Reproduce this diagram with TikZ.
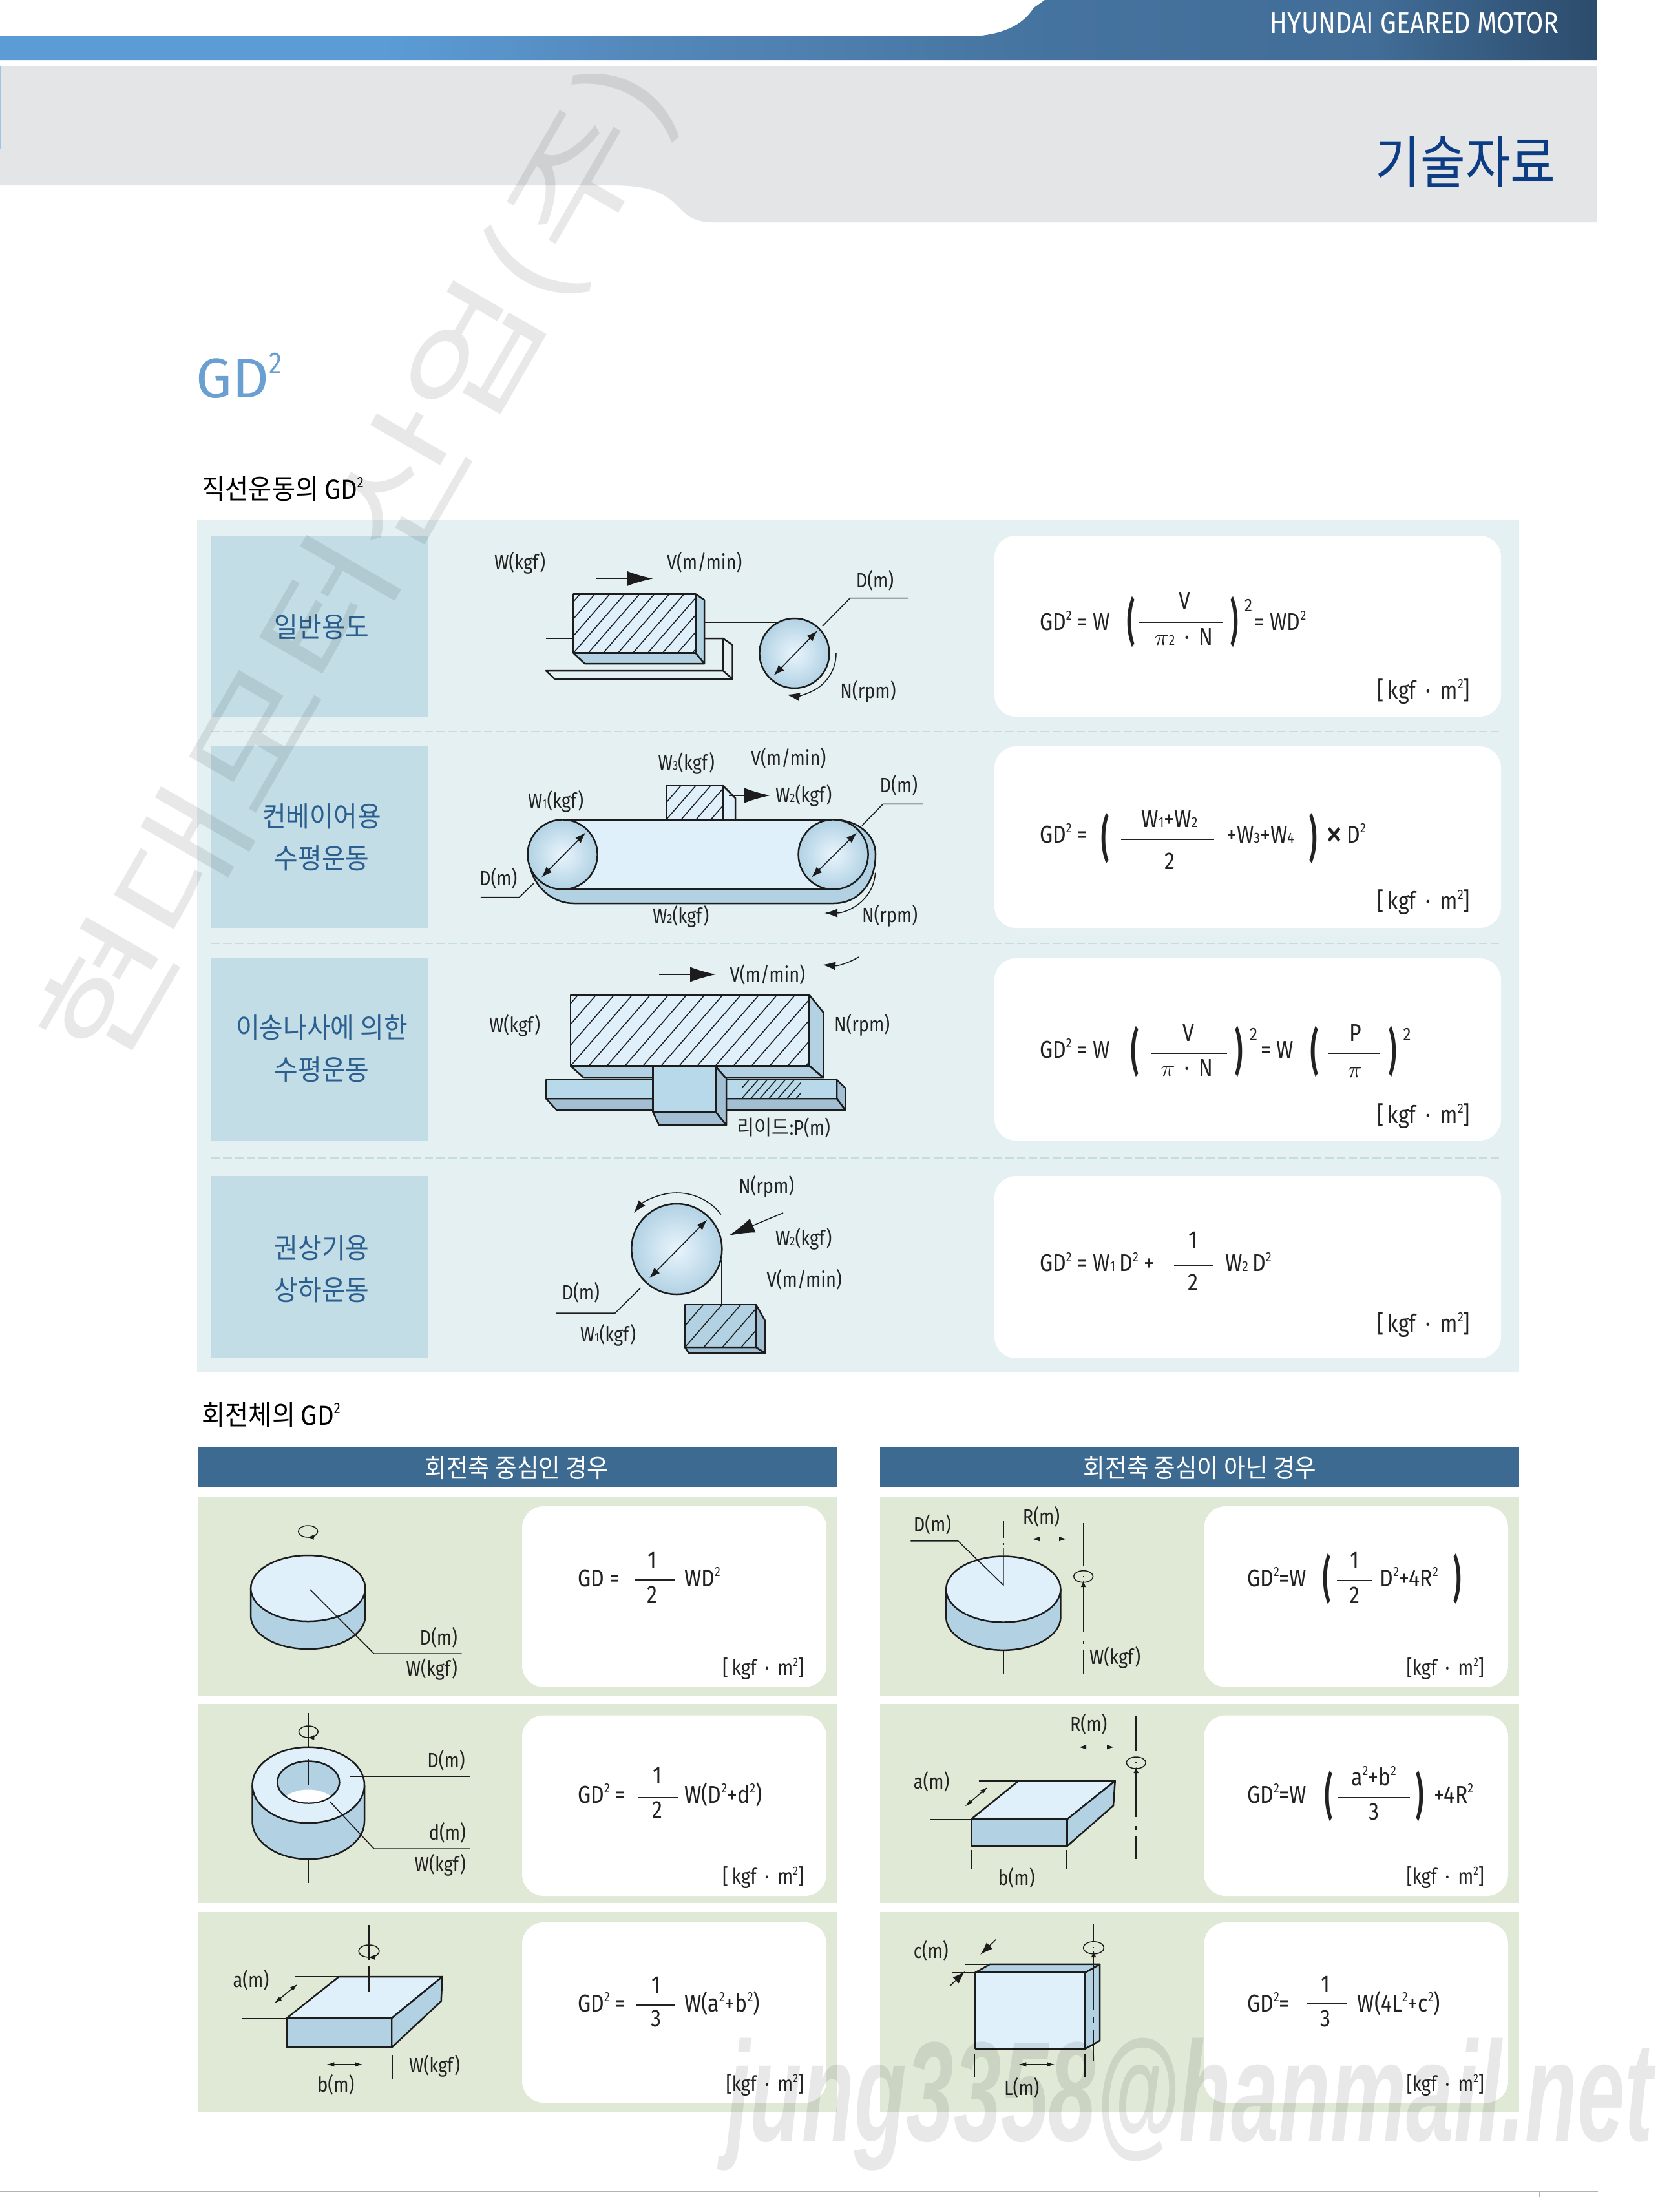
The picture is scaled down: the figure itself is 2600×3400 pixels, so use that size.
\documentclass[tikz,border=0pt]{standalone}
\usepackage{graphicx}
\usepackage{fontspec}
\usetikzlibrary{arrows.meta}
\setmainfont[FakeStretch=0.85]{Fira Sans}
\newfontfamily\kr[FakeStretch=0.92]{Noto Sans CJK KR}
\newfontfamily\wmk[FakeStretch=0.6]{Liberation Sans}
\definecolor{txt}{HTML}{222222}
\definecolor{objl}{HTML}{1C1C1C}
\definecolor{panelb}{HTML}{E4F0F2}
\definecolor{blockb}{HTML}{C3DDE6}
\definecolor{panelg}{HTML}{E0E8D6}
\definecolor{headb}{HTML}{3C6A91}
\definecolor{lightf}{HTML}{DFF0FB}
\definecolor{sidef}{HTML}{B2D2E4}
\definecolor{darkf}{HTML}{A3BFD3}
\definecolor{railf}{HTML}{B8D9E9}
\definecolor{grayb}{HTML}{E3E5E7}
\definecolor{dashc}{HTML}{C5DEDD}
\definecolor{labelc}{HTML}{2A5F8F}
\definecolor{titlec}{HTML}{0B3C84}
\definecolor{gdc}{HTML}{6A9FD2}
\definecolor{hA}{HTML}{5B9CD6}
\definecolor{hB}{HTML}{5488BB}
\definecolor{hC}{HTML}{45739F}
\definecolor{hD}{HTML}{2C4C6C}
\pgfdeclarehorizontalshading{hdrshade}{100bp}{color(0bp)=(hA); color(25bp)=(hA); color(37bp)=(hA); color(45bp)=(hB); color(58bp)=(hC); color(68bp)=(hC!85!hD); color(75bp)=(hD); color(100bp)=(hD)}
\newcommand\su[1]{\raisebox{0.42em}{\scalebox{.55}{#1}}}
\newcommand\sm[1]{\scalebox{.6}{#1}}
\newcommand\fL{\fontsize{9.6}{11}\selectfont}
\newcommand\fF{\fontsize{11.3}{13}\selectfont}
\tikzset{
 lbl/.style={inner sep=0,outer sep=0,anchor=base west,font=\fL,text=txt},
 lblr/.style={lbl,anchor=base east},
 fm/.style={inner sep=0,outer sep=0,anchor=base west,font=\fF,text=txt},
 fmc/.style={fm,anchor=base},
 fmr/.style={fm,anchor=base east},
 fmu/.style={fmr,font=\fontsize{9.9}{12}\selectfont},
 pn/.style={inner sep=0,outer sep=0,anchor=center,font=\fF\bfseries,text=txt},
 blk/.style={inner sep=0,outer sep=0,anchor=center,align=center,font={\kr\fontsize{13}{19.5}\selectfont},text=labelc},
 obj/.style={draw=objl,line width=.75pt,line join=round},
 ln/.style={draw=objl,line width=.45pt},
 barl/.style={draw=txt,line width=.6pt},
 card/.style={fill=white,rounded corners=10pt},
 dsh/.style={draw=dashc,line width=.45pt,dash pattern=on 4pt off 1.5pt},
 bigtip/.style={-{Latex[length=12pt,width=7pt]}},
 midtip/.style={-{Latex[length=6pt,width=4pt]}},
 tinytip/.style={-{Latex[length=3pt,width=2.4pt]}},
 dia/.style={{Latex[length=5pt,width=3.6pt]}-{Latex[length=5pt,width=3.6pt]}},
 smalld/.style={{Latex[length=3.6pt,width=2.2pt]}-{Latex[length=3.6pt,width=2.2pt]}},
 wm/.style={inner sep=0,outer sep=0,text=black,text opacity=.09}
}
\newcommand\LB[4]{\node[lbl] (#1) at (#2,#3) {#4};}
\newcommand\LR[4]{\node[lblr] (#1) at (#2,#3) {#4};}
\newcommand\FM[4]{\node[fm] (#1) at (#2,#3) {#4};}
\newcommand\FC[4]{\node[fmc] (#1) at (#2,#3) {#4};}
\newcommand\UN[3]{\node[fmr] (#1) at (#2,#3) {[\,kgf\, ·\, m\su{2}]};}
\newcommand\US[3]{\node[fmu] (#1) at (#2,#3) {[\,kgf\, ·\, m\su{2}]};}
\newcommand\UO[3]{\node[fmu] (#1) at (#2,#3) {[kgf\, ·\, m\su{2}]};}
\newcommand\PA[4]{\node[pn] (#1) at (#2,#3) {\scalebox{1.15}[2.05]{#4}};}
\newcommand\BAR[3]{\draw[barl] (#1,#3) -- (#2,#3);}
\newcommand\hatchrect[6]{%
 \fill[#6] (#1,#2) rectangle (#3,#4);
 \begin{scope}
 \clip (#1,#2) rectangle (#3,#4);
 \pgfmathsetmacro\dd{(#4-#2)/1.15}
 \foreach \o [evaluate=\o as \oo using #1+#5*\o, evaluate=\o as \op using #1+#5*\o+\dd] in {-8,...,20}
   \draw[ln] (\oo,#4) -- (\op,#2);
 \end{scope}}
\newcommand\cyl[5]{% cx ytop ybot rx ry
 \filldraw[obj,fill=sidef] ({#1-#4},#2) -- ({#1-#4},#3) arc [start angle=180,end angle=0,x radius=#4,y radius=#5] -- ({#1+#4},#2) -- cycle;
 \filldraw[obj,fill=lightf] (#1,#2) ellipse [x radius=#4,y radius=#5];}
\newcommand\rotm[4]{%
 \draw[ln] (#1,#2) ellipse [x radius=#3,y radius=#4];
 \draw[ln,tinytip] ({#1+8},{#2+#4}) -- ({#1-1},{#2+#4});}
\newcommand\pul[3]{\shade[inner color=lightf!70!white,outer color=sidef] (#1,#2) circle [radius=#3]; \draw[obj] (#1,#2) circle [radius=#3];}
\begin{document}
\begin{tikzpicture}[x=0.3pt,y=0.3pt,yscale=-1]
\useasboundingbox (0,0) rectangle (2600,3400);
\fill[white] (0,0) rectangle (2600,3400);
% header
\shade[shading=hdrshade] (0,56) -- (1509,56) .. controls (1560,52) and (1585,35) .. (1600,12) -- (1617,0) -- (2471,0) -- (2471,93) -- (0,93) -- cycle;
\fill[grayb] (0,102) -- (2471,102) -- (2471,344) -- (1103,344) .. controls (1080,344) and (1065,337) .. (1050,320) .. controls (1030,300) and (1010,287) .. (945,287) -- (0,287) -- cycle;
\fill[hA!60!white] (0,102) rectangle (2,230);
\node[inner sep=0,anchor=base east,text=white,font=\fontsize{13.9}{15}\selectfont] (hdr) at (2413,51) {HYUNDAI GEARED MOTOR};
\node[inner sep=0,anchor=base east,text=titlec,font=\kr\fontsize{25.2}{30}\selectfont] (ttl) at (2408,283) {\scalebox{.98}[1.05]{기술자료}};
\node[inner sep=0,anchor=base west,text=gdc,font=\fontsize{26}{30}\selectfont] (gd) at (303,615) {\scalebox{1.2}[1]{GD}\su{2}};
\node[inner sep=0,anchor=base west,text=black,font=\kr\fontsize{12.8}{15}\selectfont] (sec1) at (312,772) {직선운동의 {\rmfamily\scalebox{1.1}[1]{GD}\su{2}}};
\node[inner sep=0,anchor=base west,text=black,font=\kr\fontsize{12.8}{15}\selectfont] (sec2) at (312,2205) {회전체의 {\rmfamily\scalebox{1.1}[1]{GD}\su{2}}};
% panel 1
\fill[panelb] (305,804) rectangle (2351,2123);
\fill[blockb] (327,829) rectangle (663,1110);
\fill[blockb] (327,1154) rectangle (663,1436);
\fill[blockb] (327,1483) rectangle (663,1765);
\fill[blockb] (327,1820) rectangle (663,2102);
\draw[dsh] (327,1132) -- (2321,1132);
\draw[dsh] (327,1460) -- (2321,1460);
\draw[dsh] (327,1792) -- (2321,1792);
\fill[card] (1539,829) rectangle (2323,1109);
\fill[card] (1539,1155) rectangle (2323,1436);
\fill[card] (1539,1483) rectangle (2323,1765);
\fill[card] (1539,1820) rectangle (2323,2102);
\node[blk] (b1) at (498,970) {일반용도};
\node[blk] (b2) at (498,1296) {컨베이어용\\수평운동};
\node[blk] (b3) at (498,1623) {이송나사에 의한\\수평운동};
\node[blk] (b4) at (498,1964) {권상기용\\상하운동};
% scene 1
\LB{s1a}{765}{881.7}{W(kgf)}
\LB{s1b}{1032}{881.7}{V(m/min)}
\LB{s1c}{1324.8}{909}{D(m)}
\LB{s1d}{1300.4}{1080}{N(rpm)}
\draw[ln,bigtip] (922.6,895.4) -- (1010.4,895.4);
\draw[ln] (845,988) -- (887.4,988);
\draw[obj] (1090,963) -- (1205.6,963);
\draw[obj] (1090,988) -- (1119,988) -- (1133.5,998) -- (1133.5,1051) -- (858.7,1051) -- (845,1038) -- (1119,1038) -- (1133.5,1051);
\draw[obj] (1119,988) -- (1119,1038);
\hatchrect{887.4}{919.4}{1076.6}{1010.6}{23}{lightf}
\filldraw[obj,fill=sidef] (1076.6,919.4) -- (1090,928.5) -- (1090,1027) -- (1076.6,1010.6) -- cycle;
\filldraw[obj,fill=sidef] (887.4,1010.6) -- (905,1027) -- (1090,1027) -- (1076.6,1010.6) -- cycle;
\draw[obj] (887.4,919.4) rectangle (1076.6,1010.6);
\pul{1229.4}{1011}{54}
\draw[ln,dia] (1265,976) -- (1197.4,1045.4);
\draw[ln] (1273,969) -- (1315.6,925.6) -- (1406,925.6);
\draw[ln,midtip] (1294,1011) arc [start angle=0,end angle=100,radius=65];
% scene 2
\LB{s2a}{1018.6}{1191}{W\sm{3}(kgf)}
\LB{s2b}{1162}{1184.7}{V(m/min)}
\LB{s2c}{817}{1250}{W\sm{1}(kgf)}
\LB{s2d}{1200}{1241.5}{W\sm{2}(kgf)}
\LB{s2e}{1361.7}{1226}{D(m)}
\LB{s2f}{742}{1370}{D(m)}
\LB{s2g}{1010}{1428}{W\sm{2}(kgf)}
\LB{s2h}{1334}{1427}{N(rpm)}
\hatchrect{1031}{1216}{1119}{1268.5}{23}{lightf}
\filldraw[obj,fill=lightf] (1119,1216) -- (1138,1235) -- (1138,1268.5) -- (1119,1268.5) -- cycle;
\draw[obj] (1031,1268.5) -- (1031,1216) -- (1119,1216) -- (1119,1268.5);
\draw[ln,bigtip] (1128,1231) -- (1192,1231);
\filldraw[obj,fill=sidef] (818,1322) .. controls (818,1365) and (850,1398) .. (888,1398) -- (1290,1398) .. controls (1330,1398) and (1355,1365) .. (1355,1322) .. controls (1355,1290) and (1325,1268.5) .. (1290,1268.5) -- (871,1268.5) -- cycle;
\fill[lightf] (871,1268.5) rectangle (1290,1376);
\draw[obj] (871,1268.5) -- (1290,1268.5);
\draw[obj] (871,1376) -- (1290,1376);
\pul{870.6}{1322.4}{54}
\pul{1289.6}{1322.4}{54}
\draw[ln,dia] (906.4,1288.4) -- (838,1357.6);
\draw[ln,dia] (1326,1288.4) -- (1256,1357.6);
\draw[ln] (1334,1277.6) -- (1366.5,1244.4) -- (1427.8,1244.4);
\draw[ln] (826,1367) -- (803.4,1388.7) -- (743.8,1388.7);
\draw[ln,midtip] (1354.6,1350.6) .. controls (1352,1395) and (1310,1413) .. (1276,1413);
% scene 3
\LB{s3a}{1129.7}{1519}{V(m/min)}
\LB{s3b}{757}{1597.3}{W(kgf)}
\LB{s3c}{1291}{1596}{N(rpm)}
\node[lbl] (s3d) at (1140.5,1756) {{\kr 리이드}:P(m)};
\draw[ln,bigtip] (1019.6,1508) -- (1108,1508);
\draw[ln,midtip] (1329,1481) .. controls (1310,1492) and (1295,1495) .. (1273,1493);
\hatchrect{883}{1540}{1252.7}{1649.6}{28}{lightf}
\filldraw[obj,fill=sidef] (1252.7,1540) -- (1274.4,1567) -- (1274.4,1668) -- (1252.7,1649.6) -- cycle;
\filldraw[obj,fill=sidef] (883,1649.6) -- (903.7,1668) -- (1274.4,1668) -- (1252.7,1649.6) -- cycle;
\draw[obj] (883,1540) rectangle (1252.7,1649.6);
\filldraw[obj,fill=darkf] (845,1700) -- (861.4,1718) -- (1308.5,1718) -- (1295,1700) -- cycle;
\filldraw[obj,fill=darkf] (1295,1671) -- (1308.5,1684) -- (1308.5,1718) -- (1295,1700) -- cycle;
\hatchrect{1148}{1671}{1240}{1700}{14}{railf}
\fill[railf] (845,1671) rectangle (1148,1700);
\fill[railf] (1240,1671) rectangle (1295,1700);
\draw[obj] (845,1671) rectangle (1295,1700);
\filldraw[obj,fill=darkf] (1010.4,1721) -- (1020,1741) -- (1124,1741) -- (1108,1721) -- cycle;
\filldraw[obj,fill=darkf] (1108,1651) -- (1124,1669) -- (1124,1741) -- (1108,1721) -- cycle;
\filldraw[obj,fill=railf] (1010.4,1651) rectangle (1108,1721);
% scene 4
\LB{s4a}{1143}{1846.4}{N(rpm)}
\LB{s4b}{1200}{1927.7}{W\sm{2}(kgf)}
\LB{s4c}{1186.6}{1991.5}{V(m/min)}
\LB{s4d}{869.5}{2011.6}{D(m)}
\LB{s4e}{898}{2076}{W\sm{1}(kgf)}
\pul{1047.3}{1933}{70}
\draw[ln,dia] (1094.4,1887.5) -- (1005,1978);
\draw[ln,midtip] (1115.9,1879.4) arc [start angle=-38,end angle=-140,radius=87];
\draw[ln,bigtip] (1212,1877) -- (1128,1912);
\draw[ln] (1116.7,1950) -- (1116.7,2019);
\draw[ln] (991.5,1993) -- (952,2032) -- (860,2032);
\hatchrect{1060}{2019}{1170}{2085}{29}{sidef}
\filldraw[obj,fill=darkf] (1170,2019) -- (1184,2044) -- (1184,2094) -- (1170,2085) -- cycle;
\filldraw[obj,fill=darkf] (1060,2085) -- (1066,2094) -- (1184,2094) -- (1170,2085) -- cycle;
\draw[obj] (1060,2019) rectangle (1170,2085);
% formulas panel 1
\FM{f1a}{1609}{975}{GD\su{2} = W}
\PA{f1b}{1750}{962}{(}
\FC{f1c}{1833}{942}{V}
\BAR{1763}{1892}{963}
\FC{f1d}{1832}{998}{$\pi$\sm{2}\, ·\, N}
\PA{f1e}{1910}{962}{)}
\FM{f1f}{1926}{946}{\scalebox{.75}{2}}
\FM{f1g}{1941}{975}{= WD\su{2}}
\UN{f1u}{2275}{1081}
\FM{f2a}{1609}{1304}{GD\su{2} =}
\PA{f2b}{1710}{1297}{(}
\FC{f2c}{1810}{1280}{W\sm{1}+W\sm{2}}
\BAR{1735}{1879}{1299}
\FC{f2d}{1810}{1345.5}{2}
\FM{f2e}{1898}{1304}{+W\sm{3}+W\sm{4}}
\PA{f2f}{2032}{1297}{)}
\FM{f2g}{2051}{1304}{\raisebox{-.2em}{\scalebox{1.7}{×}}\,D\su{2}}
\UN{f2u}{2275}{1407}
\FM{f3a}{1609}{1637}{GD\su{2} = W}
\PA{f3b}{1756}{1627}{(}
\FC{f3c}{1839.5}{1611.4}{V}
\BAR{1781}{1899}{1630}
\FC{f3d}{1837}{1665.7}{$\pi$\, ·\, N}
\PA{f3e}{1917}{1627}{)}
\FM{f3f}{1934}{1610.6}{\scalebox{.75}{2}}
\FM{f3g}{1951}{1637}{= W}
\PA{f3h}{2034}{1627}{(}
\FC{f3i}{2097.6}{1611.4}{P}
\BAR{2056}{2136}{1630}
\FC{f3j}{2097}{1667}{$\pi$}
\PA{f3k}{2155}{1627}{)}
\FM{f3l}{2171.6}{1610.6}{\scalebox{.75}{2}}
\UN{f3u}{2275}{1738}
\FM{f4a}{1609}{1967.8}{GD\su{2} = W\sm{1}\,D\su{2} +}
\FC{f4b}{1846}{1931}{1}
\BAR{1816.5}{1877.8}{1957.6}
\FC{f4c}{1846}{1997}{2}
\FM{f4d}{1896}{1967.8}{W\sm{2}\,D\su{2}}
\UN{f4u}{2275}{2061.6}
% rotating headers
\fill[headb] (306,2240) rectangle (1295,2302);
\fill[headb] (1362,2240) rectangle (2351,2302);
\node[inner sep=0,text=white,font=\kr\fontsize{11.9}{14}\selectfont] (h1) at (800,2272) {회전축 중심인 경우};
\node[inner sep=0,text=white,font=\kr\fontsize{11.9}{14}\selectfont] (h2) at (1857,2272) {회전축 중심이 아닌 경우};
\foreach \yA/\yB/\cA/\cB in {2316/2624/2331/2610.6,2637/2945/2654.6/2934,2959/3268/2975/3254}{
 \fill[panelg] (306,\yA) rectangle (1295,\yB);
 \fill[panelg] (1362,\yA) rectangle (2351,\yB);
 \fill[card] (808,\cA) rectangle (1279,\cB);
 \fill[card] (1863.4,\cA) rectangle (2334,\cB);
}
% L1
\draw[ln] (476.7,2337) -- (476.7,2406);
\draw[ln] (476.7,2552) -- (476.7,2598);
\rotm{476.7}{2370}{15}{9}
\cyl{476.7}{2458}{2501}{88.6}{51}
\draw[ln] (480,2460) -- (578.7,2559) -- (714.6,2559);
\LR{l1a}{708}{2545.6}{D(m)}
\LR{l1b}{708}{2593}{W(kgf)}
\FM{l1c}{894.4}{2455}{GD =}
\FC{l1d}{1009}{2427.6}{1}
\BAR{982.4}{1044}{2445.4}
\FC{l1e}{1009}{2480.5}{2}
\FM{l1f}{1059}{2455}{WD\su{2}}
\US{l1u}{1244}{2592}
% L2
\draw[ln] (477.3,2650.8) -- (477.3,2722);
\draw[ln] (477.3,2877) -- (477.3,2913.6);
\rotm{477.3}{2680}{15}{9}
\cyl{477.3}{2762.4}{2818.5}{86.7}{58.7}
\filldraw[obj,fill=sidef] (477.3,2758) ellipse [x radius=48,y radius=32.5];
\begin{scope}
\clip (477.3,2758) ellipse [x radius=47,y radius=31.5];
\fill[white] (477.3,2802) ellipse [x radius=48,y radius=32.5];
\end{scope}
\draw[ln] (477.3,2722) -- (477.3,2762);
\draw[ln] (541,2749.6) -- (727.3,2749.6);
\draw[ln] (510.5,2788) -- (578.7,2861) -- (727.3,2861);
\LR{l2a}{719.7}{2735.6}{D(m)}
\LR{l2b}{721}{2847}{d(m)}
\LR{l2c}{721}{2896}{W(kgf)}
\FM{l2d}{894.4}{2790}{GD\su{2} =}
\FC{l2e}{1017.5}{2760.5}{1}
\BAR{987.5}{1049}{2781.5}
\FC{l2f}{1017.5}{2813.4}{2}
\FM{l2g}{1059}{2790}{W(D\su{2}+d\su{2})}
\US{l2u}{1244}{2915.5}
% L3
\draw[ln] (571,2979) -- (571,3033);
\rotm{571}{3019.4}{16}{9.5}
\filldraw[obj,fill=lightf] (443.5,3123.4) -- (524.5,3059) -- (684.6,3059) -- (606,3123.4) -- cycle;
\filldraw[obj,fill=sidef] (684.6,3059) -- (682.7,3097) -- (606,3168.7) -- (606,3123.4) -- cycle;
\filldraw[obj,fill=sidef] (443.5,3123.4) rectangle (606,3168.7);
\draw[ln] (571,3043) -- (571,3083);
\draw[ln] (456.3,3059) -- (524.5,3059);
\draw[ln] (375.3,3123.4) -- (443.5,3123.4);
\draw[ln,smalld] (460.7,3070.4) -- (424.4,3100.4);
\draw[ln] (445.4,3180) -- (445.4,3217);
\draw[ln] (606.8,3180) -- (606.8,3217);
\draw[ln,smalld] (505.4,3194.8) -- (561.5,3194.8);
\LB{l3a}{360.6}{3075}{a(m)}
\LB{l3b}{491.3}{3237.6}{b(m)}
\LB{l3c}{633}{3207}{W(kgf)}
\FM{l3d}{894.4}{3113}{GD\su{2} =}
\FC{l3e}{1015}{3084.5}{1}
\BAR{983.7}{1045}{3103}
\FC{l3f}{1015}{3136.8}{3}
\FM{l3g}{1059}{3113}{W(a\su{2}+b\su{2})}
\UO{l3u}{1244}{3236.3}
% R1
\cyl{1552.8}{2459.5}{2502.8}{88.6}{51}
\draw[ln] (1552.8,2354) -- (1552.8,2380);
\draw[ln] (1552.8,2388) -- (1552.8,2391);
\draw[ln] (1409.3,2384.8) -- (1482.7,2384.8) -- (1552.8,2453) -- (1552.8,2395);
\draw[ln] (1552.8,2554) -- (1552.8,2591);
\draw[ln,smalld] (1596.8,2381.6) -- (1651,2381.6);
\draw[ln] (1676.6,2357.4) -- (1676.6,2422.5);
\draw[ln] (1676.6,2439) -- (1676.6,2441);
\draw[ln] (1676.6,2439.7) ellipse [x radius=15,y radius=9];
\draw[ln,tinytip] (1676.6,2524.5) -- (1676.6,2446);
\draw[ln] (1676.6,2539) -- (1676.6,2544);
\draw[ln] (1676.6,2553.8) -- (1676.6,2590);
\LB{r1a}{1413.8}{2370}{D(m)}
\LB{r1b}{1582.8}{2358.7}{R(m)}
\LB{r1c}{1686}{2575.5}{W(kgf)}
\FM{r1d}{1930.4}{2455}{GD\su{2}=W}
\PA{r1e}{2053}{2443}{(}
\FC{r1f}{2096}{2427.6}{1}
\BAR{2069}{2123}{2446}
\FC{r1g}{2096}{2481.8}{2}
\FM{r1h}{2135.8}{2455}{D\su{2}+4R\su{2}}
\PA{r1i}{2255}{2443}{)}
\UO{r1u}{2297}{2592}
% R2
\draw[ln] (1620.4,2660) -- (1620.4,2711.4);
\draw[ln] (1620.4,2725) -- (1620.4,2730);
\filldraw[obj,fill=lightf] (1503,2815.3) -- (1576.4,2756) -- (1725.7,2756) -- (1651.7,2815.3) -- cycle;
\filldraw[obj,fill=sidef] (1725.7,2756) -- (1723,2794.3) -- (1651.7,2856.8) -- (1651.7,2815.3) -- cycle;
\filldraw[obj,fill=sidef] (1503,2815.3) rectangle (1651.7,2856.8);
\draw[ln] (1620.4,2743) -- (1620.4,2778);
\draw[ln] (1514.6,2756) -- (1576.4,2756);
\draw[ln] (1439.3,2815.3) -- (1503,2815.3);
\draw[ln,smalld] (1528.6,2765.6) -- (1493.5,2795.6);
\draw[ln] (1503,2863) -- (1503,2893);
\draw[ln] (1651,2863) -- (1651,2893);
\draw[ln,smalld] (1669,2703.7) -- (1725,2703.7);
\draw[ln] (1758.2,2656) -- (1758.2,2710);
\draw[ln] (1758.2,2727) -- (1758.2,2729);
\draw[ln] (1758.2,2728) ellipse [x radius=15,y radius=9];
\draw[ln,tinytip] (1758.2,2811.5) -- (1758.2,2734);
\draw[ln] (1758.2,2826) -- (1758.2,2832);
\draw[ln] (1758.2,2842) -- (1758.2,2877);
\LB{r2a}{1413.8}{2768.8}{a(m)}
\LB{r2b}{1544.5}{2917.4}{b(m)}
\LB{r2c}{1656}{2679.5}{R(m)}
\FM{r2d}{1930.4}{2790}{GD\su{2}=W}
\PA{r2e}{2056}{2779}{(}
\FC{r2f}{2126}{2763.7}{a\su{2}+b\su{2}}
\BAR{2070.7}{2182.3}{2781.5}
\FC{r2g}{2126}{2816.6}{3}
\PA{r2h}{2197}{2779}{)}
\FM{r2i}{2219.3}{2790}{+4R\su{2}}
\UO{r2u}{2297}{2915.5}
% R3
\filldraw[obj,fill=sidef] (1509.4,3052.6) -- (1531.8,3039.9) -- (1702,3039.9) -- (1679.7,3052.6) -- cycle;
\filldraw[obj,fill=sidef] (1702,3039.9) -- (1702,3157.9) -- (1679.7,3170.6) -- (1679.7,3052.6) -- cycle;
\filldraw[obj,fill=lightf] (1509.4,3052.6) rectangle (1679.7,3170.6);
\draw[ln] (1692.5,2978) -- (1692.5,3004.8);
\draw[ln] (1692.5,3013) -- (1692.5,3015);
\draw[ln] (1692.5,3014.3) ellipse [x radius=16,y radius=9.5];
\draw[ln,tinytip] (1692.5,3110) -- (1692.5,3019);
\draw[ln] (1692.5,3122) -- (1692.5,3130);
\draw[ln] (1692.5,3140.6) -- (1692.5,3188.5);
\draw[ln] (1493.5,3039.9) -- (1531.8,3039.9);
\draw[ln] (1474.4,3052.6) -- (1509.4,3052.6);
\draw[ln,midtip] (1541.3,3001.6) -- (1517,3025);
\draw[ln,midtip] (1470,3073.6) -- (1493.5,3050.7);
\draw[ln] (1508,3179) -- (1508,3215);
\draw[ln] (1679,3179) -- (1679,3215);
\draw[ln,smalld] (1576.4,3194.8) -- (1632.5,3194.8);
\LB{r3a}{1413.8}{3030.3}{c(m)}
\LB{r3b}{1554}{3242.7}{L(m)}
\FM{r3c}{1930.4}{3113}{GD\su{2}=}
\FC{r3d}{2051.6}{3083}{1}
\BAR{2023}{2083.5}{3100.4}
\FC{r3e}{2051.6}{3136.8}{3}
\FM{r3f}{2100.7}{3113}{W(4L\su{2}+c\su{2})}
\UO{r3u}{2297}{3236.3}
% foot rule
\draw[draw=black!30,line width=.5pt] (0,3392) -- (2473,3392);
\draw[draw=black!30,line width=.3pt] (2382,3392) -- (2382,3400);
% watermarks
\node[wm,rotate=60,font=\kr\fontsize{56}{60}\selectfont] (wm1) at (558,875) {\scalebox{1.44}[1]{현대모터산업(주)}};
\node[wm,anchor=base west,font=\wmk\bfseries\itshape\fontsize{66}{70}\selectfont] (wm2) at (1124,3313) {jung3358@hanmail.net};
\end{tikzpicture}
\end{document}
